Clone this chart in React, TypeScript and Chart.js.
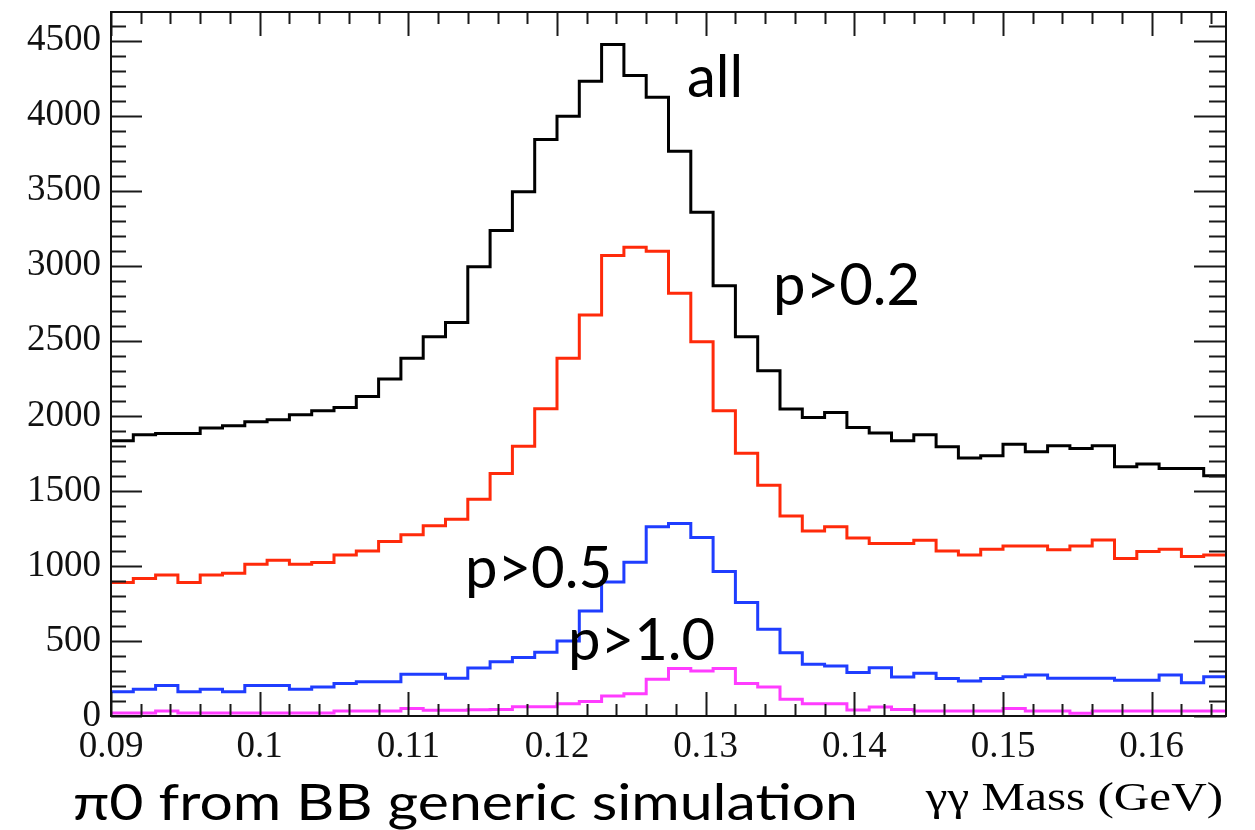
import { useEffect, useRef } from "react";
import { Chart, registerables } from "chart.js";

Chart.register(...registerables);

// γγ invariant-mass histograms, 50 bins of 1.5 MeV between 0.090 and 0.165 GeV
const MASS_MIN = 0.09;
const MASS_MAX = 0.165;
const BIN_WIDTH = 0.0015;
const binEdges = Array.from({ length: 51 }, (_, i) => +(MASS_MIN + i * BIN_WIDTH).toFixed(4));

const countsAll = [
  1833, 1873, 1882, 1882, 1918, 1933, 1960, 1973, 2007, 2033,
  2056, 2129, 2245, 2384, 2527, 2622, 2993, 3235, 3493, 3840,
  3996, 4229, 4473, 4267, 4122, 3762, 3356, 2867, 2527, 2300,
  2045, 1989, 2022, 1922, 1885, 1833, 1873, 1793, 1718, 1733,
  1811, 1760, 1800, 1782, 1800, 1660, 1678, 1649, 1649, 1600,
];
const countsP02 = [
  889, 916, 940, 889, 940, 951, 1011, 1038, 1011, 1022,
  1073, 1100, 1162, 1207, 1267, 1311, 1444, 1615, 1797, 2047,
  2384, 2671, 3067, 3122, 3096, 2816, 2493, 2033, 1751, 1538,
  1333, 1233, 1260, 1186, 1149, 1149, 1171, 1100, 1073, 1111,
  1133, 1133, 1107, 1133, 1173, 1049, 1096, 1111, 1062, 1073,
];
const countsP05 = [
  162, 178, 204, 162, 178, 162, 204, 204, 178, 193,
  216, 229, 229, 278, 278, 251, 320, 362, 389, 424,
  500, 700, 892, 1025, 1260, 1282, 1189, 962, 756, 578,
  422, 344, 333, 289, 322, 260, 284, 249, 233, 249,
  262, 273, 251, 251, 251, 238, 238, 273, 222, 262,
];
const countsP10 = [
  20, 20, 33, 20, 20, 20, 20, 20, 20, 20,
  33, 33, 33, 50, 38, 38, 42, 44, 62, 62,
  82, 96, 133, 149, 244, 316, 300, 316, 216, 193,
  111, 82, 82, 40, 60, 44, 33, 33, 33, 33,
  50, 33, 33, 18, 33, 33, 33, 33, 33, 33,
];

const seriesColors = ["#000000", "#ff2a0a", "#1f3dff", "#ff3cff"];
const seriesLabels = ["all", "p>0.2", "p>0.5", "p>1.0"];
// label anchor (left edge, text baseline) in data units
const labelAnchorX = [0.12874, 0.13453, 0.11381, 0.12074];
const labelAnchorY = [4127, 2740, 853, 373];

const xTickValues = [0.09, 0.1, 0.11, 0.12, 0.13, 0.14, 0.15, 0.16];
const yTickValues = [0, 500, 1000, 1500, 2000, 2500, 3000, 3500, 4000, 4500];
const Y_MAX = 4690;
const X_MINOR = 0.002;
const Y_MINOR = 100;

const X_TITLE = "γγ Mass (GeV)";
const CAPTION = "π0 from BB generic simulation";

// one point per lower bin edge plus the closing upper edge
function histPoints(counts: number[]) {
  const pts = counts.map((c, i) => ({ x: binEdges[i], y: c }));
  pts.push({ x: binEdges[counts.length], y: counts[counts.length - 1] });
  return pts;
}

const frameAndLabels = {
  id: "frameAndLabels",
  afterDatasetsDraw(chart: any) {
    const { ctx, chartArea: a, scales } = chart;
    const xs = scales.x;
    const ys = scales.y;
    ctx.save();

    // inward tick marks on all four sides
    ctx.strokeStyle = "#1a1a1a";
    ctx.lineWidth = 2;
    ctx.beginPath();
    const nx = Math.round((MASS_MAX - MASS_MIN) / X_MINOR);
    for (let k = 0; k <= nx; k++) {
      const v = MASS_MIN + k * X_MINOR;
      if (v > MASS_MAX + 1e-9) break;
      const px = Math.round(xs.getPixelForValue(v)) + 0.5;
      const len = k % 5 === 0 ? 24 : 12;
      ctx.moveTo(px, a.bottom);
      ctx.lineTo(px, a.bottom - len);
      ctx.moveTo(px, a.top);
      ctx.lineTo(px, a.top + len);
    }
    for (let v = 0; v <= Y_MAX; v += Y_MINOR) {
      const py = Math.round(ys.getPixelForValue(v)) + 0.5;
      const major = v % 500 === 0;
      const lenL = major ? 31 : 15;
      const lenR = major ? 32 : 17;
      ctx.moveTo(a.left, py);
      ctx.lineTo(a.left + lenL, py);
      ctx.moveTo(a.right, py);
      ctx.lineTo(a.right - lenR, py);
    }
    ctx.stroke();

    // frame
    ctx.lineWidth = 2;
    ctx.strokeStyle = "#111";
    ctx.strokeRect(a.left, a.top, a.right - a.left, a.bottom - a.top);

    // curve labels
    ctx.fillStyle = "#000";
    ctx.textAlign = "left";
    ctx.textBaseline = "alphabetic";
    ctx.font = '58px Lato, "Open Sans", sans-serif';
    seriesLabels.forEach((t, i) => {
      ctx.fillText(t, xs.getPixelForValue(labelAnchorX[i]), ys.getPixelForValue(labelAnchorY[i]));
    });

    // x-axis title, right aligned to the frame
    ctx.font = '39px "Liberation Serif", "Times New Roman", serif';
    ctx.textAlign = "right";
    ctx.save();
    ctx.translate(a.right - 3, 810);
    ctx.scale(1.26, 1);
    ctx.fillText(X_TITLE, 0, 0);
    ctx.restore();

    // caption, widened to the humanist-sans proportions of the slide text
    ctx.textAlign = "left";
    ctx.font = '51px Lato, "Open Sans", sans-serif';
    const w = ctx.measureText(CAPTION).width;
    ctx.save();
    ctx.translate(73, 820);
    ctx.scale(785 / w, 1);
    ctx.fillText(CAPTION, 0, 0);
    ctx.restore();

    ctx.restore();
  },
};

export default function App() {
  const canvasRef = useRef<HTMLCanvasElement | null>(null);

  useEffect(() => {
    if (!canvasRef.current) return;
    const serif = { family: '"Liberation Serif", "Times New Roman", serif', size: 37 };
    const chart = new Chart(canvasRef.current, {
      type: "line",
      data: {
        datasets: [countsAll, countsP02, countsP05, countsP10].map((c, i) => ({
          label: seriesLabels[i],
          data: histPoints(c),
          borderColor: seriesColors[i],
          borderWidth: 3,
          stepped: "before" as const,
          pointRadius: 0,
          fill: false,
          borderJoinStyle: "miter" as const,
          borderCapStyle: "butt" as const,
        })),
      },
      options: {
        animation: false,
        responsive: false,
        events: [],
        layout: { padding: { left: 0, top: 12, right: 29, bottom: 0 } },
        plugins: { legend: { display: false }, tooltip: { enabled: false } },
        scales: {
          x: {
            type: "linear",
            min: MASS_MIN,
            max: MASS_MAX,
            grid: { display: false, drawTicks: false },
            border: { display: false },
            afterBuildTicks: (s: any) => {
              s.ticks = xTickValues.map((v) => ({ value: v }));
            },
            afterFit: (s: any) => {
              s.height = 114;
              s.paddingLeft = 0;
              s.paddingRight = 0;
            },
            ticks: {
              autoSkip: false,
              maxRotation: 0,
              padding: 9,
              color: "#111",
              font: serif,
              callback: (v: any) => String(+Number(v).toFixed(3)),
            },
          },
          y: {
            type: "linear",
            min: 0,
            max: Y_MAX,
            grid: { display: false, drawTicks: false },
            border: { display: false },
            afterBuildTicks: (s: any) => {
              s.ticks = yTickValues.map((v) => ({ value: v }));
            },
            afterFit: (s: any) => {
              s.width = 111;
              s.paddingTop = 0;
              s.paddingBottom = 0;
            },
            ticks: {
              autoSkip: false,
              padding: 10,
              color: "#111",
              font: serif,
              callback: (v: any) => String(v),
            },
          },
        },
      },
      plugins: [frameAndLabels],
    });
    return () => chart.destroy();
  }, []);

  return (
    <div style={{ position: "fixed", left: 0, top: 0, width: 1255, height: 830, background: "#fff" }}>
      <canvas ref={canvasRef} width={1255} height={830} style={{ display: "block" }} />
    </div>
  );
}
